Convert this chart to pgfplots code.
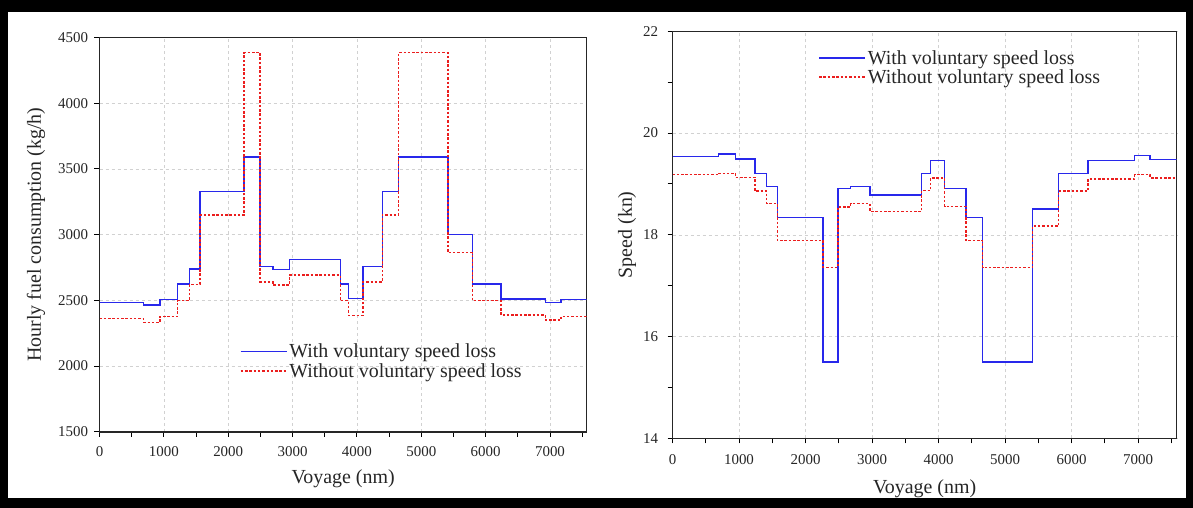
\documentclass[border=0pt]{standalone}
\usepackage{fontspec}
\setmainfont{Liberation Serif}
\usepackage{pgfplots}
\pgfplotsset{compat=1.18}
\definecolor{myblue}{RGB}{40,40,235}
\definecolor{myred}{RGB}{235,30,30}
\pgfplotsset{
  myaxis/.style={
    scale only axis,
    anchor=south west,
    xmin=0, xmax=7570,
    xtick distance=1000,
    minor x tick num=1,
    tick align=outside,
    tick pos=left,
    major tick length=5bp,
    minor tick length=5bp,
    every tick/.style={black, line width=1bp},
    axis line style={black!85, line width=1.4bp},
    grid=major,
    major grid style={black!18, dash pattern=on 3bp off 3bp, line width=0.6bp},
    /pgf/number format/1000 sep={},
    /pgf/number format/assume math mode=true,
    tick label style={font=\fontsize{15}{17}\selectfont, text=black!85},
    label style={font=\fontsize{20}{22}\selectfont, text=black!85},
    legend cell align=left,
    legend style={draw=none, fill=none, font=\fontsize{20}{23}\selectfont, text=black!85, row sep=0bp, inner sep=0bp},
  },
  withs/.style={const plot, myblue, line width=1.4bp, no marks},
  withouts/.style={const plot, myred, line width=1.4bp, dash pattern=on 2.5bp off 1.8bp, no marks},
}
\begin{document}
\begin{tikzpicture}
\fill[black] (0bp,0bp) rectangle (1193bp,508bp);
\fill[white] (8bp,10bp) rectangle (1186bp,496bp);
\useasboundingbox (0bp,0bp) rectangle (1193bp,508bp);
\begin{axis}[myaxis,
  at={(99.5bp,76.2bp)}, width=487.2bp, height=394.2bp,
  ymin=1500, ymax=4500, ytick distance=500,
  xlabel={Voyage (nm)}, ylabel={Hourly fuel consumption (kg/h)},
  xticklabel style={yshift=-6bp},
  yticklabel style={xshift=-3bp},
  ylabel style={yshift=6bp},
  xlabel style={yshift=-6bp},
  legend image code/.code={\draw[#1] (0bp,0bp) -- (46bp,0bp);},
  legend style={at={(rel axis cs:0.288,0.228)}, anchor=north west},
]
\addplot[withs] coordinates {(0,2485) (681,2465) (941,2508) (1216,2625) (1397,2739) (1563,3330) (2247,3590) (2496,2760) (2693,2737) (2952,2813) (3740,2625) (3870,2516) (4093,2760) (4393,3330) (4647,3590) (5412,3000) (5793,2625) (6236,2511) (6928,2483) (7172,2505) (7570,2505)};
\addlegendentry{With voluntary speed loss}
\addplot[withouts] coordinates {(0,2360) (681,2333) (941,2379) (1216,2498) (1397,2622) (1563,3150) (2247,4385) (2496,2640) (2693,2617) (2952,2693) (3740,2498) (3870,2387) (4093,2640) (4393,3150) (4647,4385) (5412,2863) (5793,2498) (6236,2389) (6928,2351) (7172,2379) (7570,2379)};
\addlegendentry{Without voluntary speed loss}
\end{axis}
\begin{axis}[myaxis,
  at={(672.5bp,69.7bp)}, width=504.2bp, height=407bp,
  xmax=7580,
  ymin=14, ymax=22, ytick distance=2, minor y tick num=1,
  xlabel={Voyage (nm)}, ylabel={Speed (kn)},
  xticklabel style={yshift=-8bp},
  yticklabel style={xshift=-6bp},
  ylabel style={yshift=0bp},
  xlabel style={yshift=-8bp},
  legend image code/.code={\draw[#1] (0bp,0bp) -- (46bp,0bp);},
  legend style={at={(rel axis cs:0.289,0.959)}, anchor=north west, font=\fontsize{20}{26}\selectfont},
]
\addplot[withs] coordinates {(0,19.54) (689,19.59) (950,19.49) (1241,19.21) (1416,18.95) (1576,18.34) (2265,15.5) (2490,18.91) (2677,18.95) (2970,18.78) (3747,19.21) (3883,19.46) (4090,18.91) (4411,18.34) (4662,15.5) (5414,18.51) (5805,19.21) (6247,19.46) (6948,19.56) (7180,19.48) (7580,19.48)};
\addlegendentry{With voluntary speed loss}
\addplot[withouts] coordinates {(0,19.18) (689,19.21) (950,19.13) (1241,18.86) (1416,18.61) (1576,17.89) (2265,17.36) (2490,18.55) (2677,18.61) (2970,18.46) (3747,18.87) (3883,19.12) (4090,18.56) (4411,17.89) (4662,17.36) (5414,18.17) (5805,18.86) (6247,19.10) (6948,19.18) (7180,19.12) (7580,19.12)};
\addlegendentry{Without voluntary speed loss}
\end{axis}
\end{tikzpicture}
\end{document}
